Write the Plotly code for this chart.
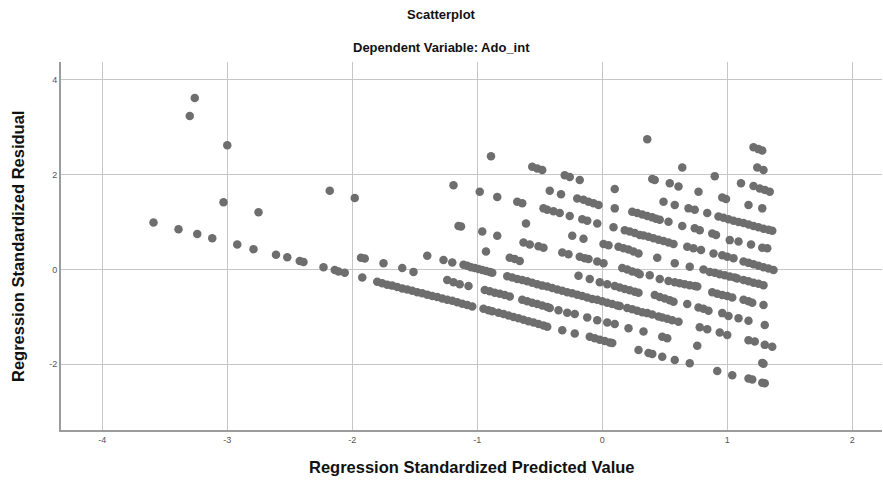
import plotly.graph_objects as go

# ---- Data (Regression Standardized Predicted Value, Residual) ----
# isolated points on the far left
x_left = [-3.26, -3.30, -3.00, -3.03, -2.75, -2.18, -1.98,
          -3.59, -3.39, -3.24, -3.12, -2.92, -2.79, -2.61, -2.52, -2.42, -2.39,
          -2.23, -2.14, -2.11, -2.06, -1.92]
y_left = [3.62, 3.24, 2.62, 1.42, 1.21, 1.66, 1.51,
          0.99, 0.85, 0.75, 0.66, 0.53, 0.43, 0.31, 0.26, 0.18, 0.16,
          0.05, -0.01, -0.04, -0.07, -0.17]

# lowest band
x_b0 = [-1.80, -1.76, -1.72, -1.68, -1.64, -1.60, -1.56, -1.52, -1.48, -1.44,
        -1.40, -1.36, -1.32, -1.28, -1.24, -1.20, -1.16, -1.12, -1.08, -1.04,
        -0.95, -0.91, -0.88, -0.83, -0.79, -0.75, -0.71, -0.67, -0.63, -0.59,
        -0.55, -0.51, -0.47, -0.44, -0.32, -0.22, -0.10, -0.06, -0.02, 0.02,
        0.06, 0.08, 0.29, 0.37, 0.40, 0.48, 0.58, 0.70, 0.92, 1.04, 1.17, 1.20,
        1.28, 1.30]
y_b0 = [-0.26, -0.29, -0.32, -0.34, -0.37, -0.40, -0.42, -0.45, -0.48, -0.50,
        -0.53, -0.56, -0.58, -0.61, -0.64, -0.66, -0.69, -0.72, -0.75, -0.78,
        -0.83, -0.86, -0.88, -0.91, -0.94, -0.97, -1.00, -1.03, -1.06, -1.09,
        -1.12, -1.15, -1.18, -1.21, -1.28, -1.35, -1.42, -1.45, -1.48, -1.51,
        -1.54, -1.55, -1.70, -1.76, -1.78, -1.84, -1.91, -1.98, -2.14, -2.23, -2.30, -2.32,
        -2.39, -2.40]

x_b1 = [-1.93, -1.90, -1.75, -1.60, -1.51, -1.24, -1.19, -1.14, -1.07,
        -0.94, -0.90, -0.86, -0.82, -0.78, -0.74, -0.64, -0.60, -0.56, -0.52,
        -0.48, -0.44, -0.42, -0.35, -0.28, -0.22, -0.12, -0.04, 0.04, 0.10,
        0.21, 0.33, 0.48, 0.52, 0.76, 1.28, 1.29]
y_b1 = [0.25, 0.23, 0.13, 0.03, -0.05, -0.22, -0.27, -0.31, -0.35,
        -0.43, -0.46, -0.49, -0.51, -0.54, -0.57, -0.64, -0.67, -0.70, -0.73,
        -0.76, -0.79, -0.81, -0.86, -0.91, -0.94, -1.01, -1.07, -1.12, -1.15,
        -1.24, -1.31, -1.42, -1.45, -1.61, -1.97, -1.99]

x_b2 = [-1.40, -1.27, -1.20, -1.11, -1.08, -1.05, -1.02, -0.99, -0.96, -0.93,
        -0.90, -0.88, -0.76, -0.72, -0.68, -0.64, -0.60, -0.56, -0.52, -0.48,
        -0.44, -0.40, -0.36, -0.32, -0.28, -0.24, -0.20, -0.16, -0.12, -0.08,
        -0.04, 0.00, 0.04, 0.08, 0.12, 0.14, 0.20, 0.24, 0.28, 0.32, 0.36,
        0.40, 0.45, 0.48, 0.52, 0.56, 0.61, 0.78, 0.84, 0.94, 1.00, 1.17,
        1.22, 1.30, 1.36]
y_b2 = [0.29, 0.20, 0.15, 0.10, 0.08, 0.05, 0.03, 0.01, -0.01, -0.03,
        -0.05, -0.07, -0.14, -0.17, -0.20, -0.22, -0.25, -0.28, -0.31, -0.34,
        -0.36, -0.39, -0.42, -0.45, -0.48, -0.50, -0.53, -0.56, -0.59, -0.62,
        -0.64, -0.67, -0.70, -0.73, -0.76, -0.77, -0.81, -0.84, -0.87, -0.90, -0.92,
        -0.95, -0.99, -1.01, -1.04, -1.07, -1.10, -1.22, -1.26, -1.33, -1.38, -1.49,
        -1.52, -1.59, -1.63]

x_b3 = [-0.93, -0.74, -0.70, -0.66, -0.19, -0.10, -0.02, 0.04, 0.10, 0.14,
        0.18, 0.22, 0.26, 0.29, 0.42, 0.46, 0.50, 0.54, 0.57, 0.68, 0.77,
        0.81, 0.85, 0.96, 1.01, 1.09, 1.17, 1.30]
y_b3 = [0.38, 0.25, 0.22, 0.18, -0.13, -0.20, -0.27, -0.31, -0.35, -0.38,
        -0.41, -0.44, -0.47, -0.49, -0.54, -0.58, -0.61, -0.65, -0.68, -0.73, -0.80,
        -0.83, -0.87, -0.92, -0.98, -1.03, -1.08, -1.17]

x_b4 = [-1.15, -1.13, -0.96, -0.84, -0.63, -0.58, -0.51, -0.47, -0.32, -0.27,
        -0.18, -0.14, -0.11, -0.04, 0.01, 0.16, 0.20, 0.24, 0.28, 0.30, 0.38,
        0.46, 0.53, 0.58, 0.62, 0.66, 0.70, 0.74, 0.76, 0.88, 0.92, 0.96,
        1.00, 1.04, 1.13, 1.17, 1.20, 1.29]
y_b4 = [0.92, 0.91, 0.80, 0.71, 0.57, 0.53, 0.49, 0.46, 0.36, 0.32,
        0.27, 0.24, 0.22, 0.17, 0.13, 0.03, 0.00, -0.04, -0.07, -0.10, -0.12,
        -0.20, -0.24, -0.27, -0.29, -0.31, -0.33, -0.35, -0.36, -0.48, -0.51, -0.54,
        -0.56, -0.59, -0.64, -0.67, -0.70, -0.75]

x_b5 = [-0.61, -0.24, -0.15, 0.01, 0.05, 0.13, 0.17, 0.21, 0.25, 0.29,
        0.44, 0.58, 0.70, 0.81, 0.86, 0.90, 0.94, 0.98, 1.02, 1.06, 1.08,
        1.13, 1.17, 1.21, 1.25, 1.29]
y_b5 = [0.97, 0.71, 0.65, 0.54, 0.51, 0.48, 0.45, 0.42, 0.38, 0.34,
        0.25, 0.13, 0.06, 0.00, -0.05, -0.07, -0.10, -0.12, -0.15, -0.17, -0.19,
        -0.22, -0.25, -0.28, -0.30, -0.33]

x_b6 = [-1.19, -0.98, -0.84, -0.68, -0.64, -0.47, -0.44, -0.39, -0.34, -0.26,
        -0.16, -0.12, -0.04, 0.09, 0.18, 0.22, 0.26, 0.30, 0.33, 0.37, 0.41,
        0.45, 0.49, 0.53, 0.57, 0.68, 0.73, 0.79, 0.89, 0.96, 1.00, 1.05,
        1.13, 1.17, 1.21, 1.25, 1.29, 1.33, 1.37]
y_b6 = [1.78, 1.64, 1.53, 1.43, 1.40, 1.29, 1.26, 1.23, 1.19, 1.13,
        1.06, 1.03, 0.97, 0.89, 0.83, 0.80, 0.77, 0.73, 0.72, 0.69, 0.66,
        0.63, 0.60, 0.57, 0.54, 0.48, 0.45, 0.41, 0.34, 0.30, 0.27, 0.24,
        0.17, 0.14, 0.11, 0.08, 0.05, 0.02, -0.01]

x_b7 = [-0.42, -0.33, -0.20, -0.15, -0.11, -0.07, -0.03, 0.10, 0.24, 0.28,
        0.32, 0.36, 0.40, 0.43, 0.46, 0.53, 0.64, 0.74, 0.78, 0.88, 0.91,
        1.02, 1.09, 1.19, 1.28, 1.32]
y_b7 = [1.66, 1.59, 1.50, 1.47, 1.43, 1.40, 1.36, 1.29, 1.22, 1.19,
        1.16, 1.13, 1.10, 1.07, 1.05, 1.01, 0.92, 0.87, 0.83, 0.76, 0.73,
        0.62, 0.59, 0.53, 0.46, 0.45]

x_b8 = [-0.89, -0.56, -0.52, -0.48, -0.30, -0.26, -0.18, 0.10, 0.49, 0.58,
        0.69, 0.74, 0.84, 0.93, 0.97, 1.01, 1.05, 1.09, 1.13, 1.17, 1.21,
        1.25, 1.29, 1.33, 1.36]
y_b8 = [2.39, 2.17, 2.13, 2.10, 1.99, 1.95, 1.89, 1.70, 1.43, 1.36,
        1.29, 1.26, 1.19, 1.12, 1.09, 1.06, 1.03, 1.00, 0.98, 0.95, 0.92,
        0.89, 0.86, 0.84, 0.82]

x_top = [0.40, 0.42, 0.54, 0.61, 0.77, 0.96, 0.99, 1.17, 1.28,
         0.64, 0.90, 1.11, 1.21, 1.26, 1.30, 1.34,
         0.36, 1.24, 1.29, 1.21, 1.25, 1.28]
y_top = [1.91, 1.89, 1.82, 1.75, 1.64, 1.52, 1.49, 1.36, 1.29,
         2.15, 1.97, 1.82, 1.76, 1.71, 1.68, 1.64,
         2.75, 2.15, 2.10, 2.58, 2.54, 2.51]

x_ticks = [-4, -3, -2, -1, 0, 1, 2]
y_ticks = [-2, 0, 2, 4]

pred = (x_left + x_b0 + x_b1 + x_b2 + x_b3 + x_b4 + x_b5 + x_b6 + x_b7 + x_b8 + x_top)
resid = (y_left + y_b0 + y_b1 + y_b2 + y_b3 + y_b4 + y_b5 + y_b6 + y_b7 + y_b8 + y_top)

FONT = "Arial, 'Liberation Sans', Helvetica, sans-serif"

fig = go.Figure()
fig.add_trace(go.Scatter(
    x=pred, y=resid, mode="markers",
    marker=dict(size=8.5, color="#6e6e6e", line=dict(width=0)),
    hoverinfo="x+y", showlegend=False,
))

W, H = 883, 482
L, R, T, B = 61, 1, 62, 52
pw, ph = W - L - R, H - T - B

def py(pix):  # paper y from pixel row
    return (H - B - pix) / ph

def px(pix):
    return (pix - L) / pw

fig.update_layout(
    width=W, height=H,
    margin=dict(l=L, r=R, t=T, b=B, pad=0),
    paper_bgcolor="white", plot_bgcolor="white",
    font=dict(family=FONT, color="#222"),
    xaxis=dict(
        range=[-4.33, 2.238], tickmode="array", tickvals=x_ticks,
        ticktext=[str(v) for v in x_ticks],
        showgrid=True, gridcolor="#c6c6c6", gridwidth=1,
        zeroline=False, showline=True, linecolor="#9c9c9c", linewidth=2,
        ticks="", tickfont=dict(size=9, color="#555555", family=FONT),
        mirror=False,
    ),
    yaxis=dict(
        range=[-3.386, 4.378], tickmode="array", tickvals=y_ticks,
        ticktext=[str(v) for v in y_ticks],
        showgrid=True, gridcolor="#c6c6c6", gridwidth=1,
        zeroline=False, showline=True, linecolor="#9c9c9c", linewidth=2,
        ticks="", tickfont=dict(size=9, color="#555555", family=FONT),
        mirror=False,
    ),
    annotations=[
        dict(text="<b>Scatterplot</b>", xref="paper", yref="paper",
             x=px(441), y=py(15), xanchor="center", yanchor="middle",
             showarrow=False, font=dict(size=13, color="#111", family=FONT)),
        dict(text="<b>Dependent Variable: Ado_int</b>", xref="paper", yref="paper",
             x=px(441), y=py(47), xanchor="center", yanchor="middle",
             showarrow=False, font=dict(size=13, color="#111", family=FONT)),
        dict(text="<b>Regression Standardized Predicted Value</b>", xref="paper", yref="paper",
             x=px(472), y=py(467), xanchor="center", yanchor="middle",
             showarrow=False, font=dict(size=16.5, color="#111", family=FONT)),
        dict(text="<b>Regression Standardized Residual</b>", xref="paper", yref="paper",
             x=px(18), y=py(247), xanchor="center", yanchor="middle", textangle=-90,
             showarrow=False, font=dict(size=16.5, color="#111", family=FONT)),
    ],
)

fig.write_html(
    "out.html",
    config={"displayModeBar": False},
    post_script="document.body.style.margin='0px';document.body.style.overflow='hidden';",
)
